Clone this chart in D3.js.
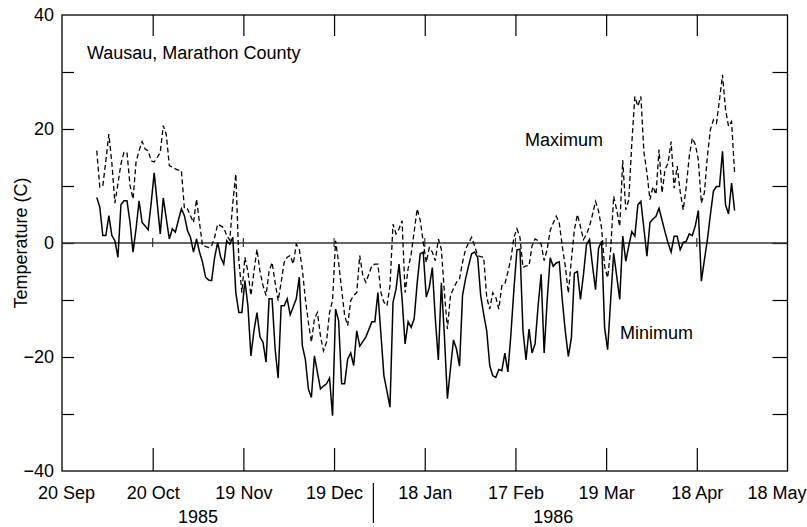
<!DOCTYPE html>
<html>
<head>
<meta charset="utf-8">
<script src="https://cdn.jsdelivr.net/npm/d3@7"></script>
<style>
  html, body { margin: 0; padding: 0; background: #fff; }
  svg { display: block; }
  text { font-family: "Liberation Sans", Arial, Helvetica, sans-serif; fill: #000; }
</style>
</head>
<body>
<svg id="chart" width="807" height="527"></svg>
<script>
// Daily temperatures, Wausau (Marathon County), 1 Oct 1985 – 30 Apr 1986, degrees C
const firstDay = [1985, 9, 1]; // 1 October 1985

const tMax = [
  16.2, 9.8, 10.0, 14.4, 19.1, 14.0, 7.0, 10.4, 13.9, 15.9,
  15.9, 10.1, 7.7, 14.2, 16.2, 17.8, 16.5, 16.2, 14.4, 14.2,
  15.0, 15.9, 20.6, 19.0, 13.6, 13.3, 13.0, 12.8, 12.7, 6.0,
  6.0, 4.8, 3.6, 7.7, 3.5, -0.5, -0.6, -0.8, -0.5, 1.0,
  3.3, 3.0, 2.7, 1.3, 0.5, 7.0, 12.1, -3.0, -8.7, -2.5,
  -5.0, -9.2, -5.0, -1.1, -5.0, -7.5, -9.2, -5.0, -3.4, -6.9,
  -10.1, -6.9, -3.4, -2.5, -2.2, -3.7, -0.2, -1.1, -4.6, -9.8,
  -13.9, -17.4, -13.3, -12.2, -16.3, -18.9, -17.4, -12.2, -10.1, 0.4,
  -3.4, -8.1, -12.7, -14.5, -10.1, -9.2, -8.7, -2.2, -5.7, -6.9,
  -5.5, -4.0, -3.7, -3.7, -8.7, -10.4, -11.0, -7.5, 3.3, 1.6,
  2.5, 3.9, -8.7, -4.5, -2.0, 2.0, 6.0, 4.0, 0.1, -3.4,
  -0.8, -1.6, -3.1, 0.7, -1.1, -8.7, -15.1, -9.2, -8.0, -6.9,
  -6.3, -3.4, -1.1, 0.0, 1.0, -0.5, -2.2, -2.4, -2.5, -9.5,
  -11.6, -8.7, -9.5, -11.6, -7.5, -7.2, -5.1, -2.8, 1.0, 2.5,
  1.0, -4.3, -4.0, -4.0, -0.5, 0.7, 0.4, -0.2, -3.1, -1.1,
  2.2, 3.5, 4.7, 3.5, -0.6, -4.1, -8.8, -3.0, 2.3, 5.0,
  2.9, 0.6, 1.5, 2.9, 5.0, 7.3, 5.6, 2.6, -4.1, -6.1,
  -1.2, 8.2, 5.8, 2.9, 14.5, 5.8, 7.6, 17.5, 25.7, 24.0,
  25.7, 16.0, 12.3, 7.6, 9.9, 8.5, 16.4, 8.8, 12.9, 14.0,
  17.8, 9.6, 13.5, 9.0, 5.8, 9.9, 15.2, 18.4, 17.3, 14.6,
  7.0, 8.8, 15.2, 19.9, 21.6, 21.0, 25.1, 29.5, 23.4, 20.5,
  21.3, 12.3
];

const tMin = [
  8.0, 6.3, 1.3, 1.3, 4.8, 1.3, 0.4, -2.5, 6.7, 7.4,
  7.4, 3.6, -1.6, 2.5, 7.4, 3.6, 3.0, 2.3, 7.0, 12.3,
  7.0, 1.6, 7.9, 4.3, 0.7, 2.5, 1.9, 4.0, 6.0, 4.8,
  2.2, 1.0, -1.6, 0.7, -1.6, -3.4, -6.0, -6.5, -6.6, -2.5,
  0.1, -2.5, -3.7, 0.4, -0.2, 1.0, -8.7, -12.2, -12.2, -6.6,
  -11.0, -19.8, -15.4, -12.2, -16.5, -17.4, -20.9, -9.8, -9.8, -18.6,
  -23.7, -11.0, -11.0, -9.8, -12.6, -11.2, -9.8, -6.0, -18.0, -20.4,
  -25.6, -27.1, -19.8, -22.7, -25.6, -25.1, -24.7, -23.7, -30.3, -11.6,
  -13.6, -24.7, -24.7, -20.4, -19.3, -21.5, -15.4, -18.1, -17.3, -16.5,
  -15.2, -13.8, -13.8, -8.7, -16.0, -23.3, -26.0, -28.8, -10.4, -8.1,
  -3.7, -9.8, -17.7, -13.8, -14.8, -13.3, -7.0, -1.9, -1.6, -9.5,
  -7.8, -4.3, -13.3, -20.5, -7.0, -16.3, -27.3, -22.1, -17.0, -18.6,
  -21.6, -9.2, -6.3, -4.0, -1.9, -1.6, -2.5, -9.2, -12.5, -15.4,
  -21.5, -23.3, -23.6, -22.2, -22.4, -19.3, -22.6, -16.0, -8.1, -1.2,
  -1.1, -15.4, -20.5, -15.1, -19.3, -17.7, -11.0, -5.5, -19.3, -10.0,
  -2.6, -4.1, -3.5, -3.3, -10.0, -15.5, -19.9, -16.7, -5.3, -5.0,
  -9.9, -5.6, -0.3, 0.6, -4.0, -8.2, -0.9, 0.3, -14.9, -18.7,
  -10.0, -1.8, -5.8, -9.9, 1.2, -3.2, -0.5, 2.0, 1.2, 6.7,
  7.3, 2.5, -2.3, 3.6, 4.2, 4.7, 6.1, 4.0, 1.9, 0.0,
  -1.6, 1.2, 1.2, -1.2, 0.1, 0.3, 1.6, 1.3, 3.0, 5.7,
  -6.7, -3.0, 0.6, 5.0, 9.1, 9.9, 9.9, 16.1, 6.7, 5.1,
  10.5, 5.7
];

// Axis ticks: every 30 days from 20 Sep 1985 to 18 May 1986
const xTickDates = [
  [1985, 8, 20], [1985, 9, 20], [1985, 10, 19], [1985, 11, 19], [1986, 0, 18],
  [1986, 1, 17], [1986, 2, 19], [1986, 3, 18], [1986, 4, 18]
];
const yTicks = [-40, -30, -20, -10, 0, 10, 20, 30, 40];
const yLabelled = [-40, -20, 0, 20, 40];
const years = [
  { label: "1985", from: [1985, 8, 20], to: [1985, 11, 19] },
  { label: "1986", from: [1986, 0, 1], to: [1986, 3, 30] }
];
const yearBreak = [1986, 0, 1];
const title = "Wausau, Marathon County";
const yTitle = "Temperature (C)";

const utc = (a, h = 0) => new Date(Date.UTC(a[0], a[1], a[2], h));

const svg = d3.select("#chart");
const W = 807, H = 527;
const m = { left: 62, right: W - 787.5, top: 15, bottom: H - 471 };
const pw = W - m.left - m.right, ph = H - m.top - m.bottom;

const x = d3.scaleUtc()
  .domain([utc(xTickDates[0]), utc(xTickDates[xTickDates.length - 1])])
  .range([m.left, m.left + pw]);
const y = d3.scaleLinear().domain([-40, 40]).range([m.top + ph, m.top]);

const days = tMax.map((_, i) => new Date(Date.UTC(firstDay[0], firstDay[1], firstDay[2] + i, 12)));
const tickDates = xTickDates.map(d => utc(d));
const inner = tickDates.slice(1, -1);
const fmtDate = d3.utcFormat("%-d %b");
const FONT = 18;

// Frame
svg.append("rect")
  .attr("x", m.left).attr("y", m.top).attr("width", pw).attr("height", ph)
  .attr("fill", "none").attr("stroke", "#000").attr("stroke-width", 1.3);

function styleAxis(g) {
  g.attr("font-family", null).attr("font-size", null);
  g.select(".domain").remove();
  g.selectAll(".tick line").attr("stroke", "#000").attr("stroke-width", 1.2);
  g.selectAll(".tick text").style("font-size", FONT + "px").attr("fill", "#000");
}

// Bottom axis with labels; the end labels are nudged to stay on the page
const last = tickDates.length - 1;
svg.append("g")
  .attr("transform", `translate(0,${m.top + ph})`)
  .call(d3.axisBottom(x).tickValues(tickDates).tickSize(-23).tickSizeOuter(0)
    .tickPadding(15.5).tickFormat(fmtDate))
  .call(styleAxis)
  .call(g => g.selectAll(".tick line").filter((d, i) => i === 0 || i === last).remove())
  .call(g => g.selectAll(".tick text").filter((d, i) => i === 0).attr("x", 4))
  .call(g => g.selectAll(".tick text").filter((d, i) => i === last)
    .attr("text-anchor", "end").attr("x", W - 1 - x(tickDates[last])));

// Top axis, ticks only
svg.append("g")
  .attr("transform", `translate(0,${m.top})`)
  .call(d3.axisTop(x).tickValues(inner).tickSize(-21).tickSizeOuter(0).tickFormat(""))
  .call(styleAxis);

// Left axis
svg.append("g")
  .attr("transform", `translate(${m.left},0)`)
  .call(d3.axisLeft(y).tickValues(yTicks).tickSize(-12).tickSizeOuter(0).tickPadding(8)
    .tickFormat(d => yLabelled.includes(d) ? d3.format("d")(d) : ""))
  .call(styleAxis)
  .call(g => g.selectAll(".tick line").filter(d => d === 40 || d === -40).remove());

// Right axis, ticks only
svg.append("g")
  .attr("transform", `translate(${m.left + pw},0)`)
  .call(d3.axisRight(y).tickValues(yTicks.filter(d => d !== 40 && d !== -40))
    .tickSize(-15).tickSizeOuter(0).tickFormat(""))
  .call(styleAxis);

// Zero line with small date marks
svg.append("line")
  .attr("x1", m.left).attr("x2", m.left + pw)
  .attr("y1", y(0)).attr("y2", y(0))
  .attr("stroke", "#333").attr("stroke-width", 1.6);
svg.append("g").selectAll("line").data(inner).join("line")
  .attr("x1", d => x(d)).attr("x2", d => x(d))
  .attr("y1", y(0) - 5).attr("y2", y(0) + 4)
  .attr("stroke", "#333").attr("stroke-width", 1.2);

// Year labels and separator
svg.append("g").selectAll("text").data(years).join("text")
  .attr("x", d => (x(utc(d.from)) + x(utc(d.to))) / 2)
  .attr("y", 523)
  .attr("text-anchor", "middle")
  .style("font-size", FONT + "px")
  .text(d => d.label);
svg.append("line")
  .attr("x1", x(utc(yearBreak))).attr("x2", x(utc(yearBreak)))
  .attr("y1", 483).attr("y2", 523)
  .attr("stroke", "#000").attr("stroke-width", 1.2);

// Axis title
svg.append("text")
  .attr("transform", `translate(27,${m.top + ph / 2}) rotate(-90)`)
  .attr("text-anchor", "middle")
  .style("font-size", FONT + "px")
  .text(yTitle);

// Panel title
svg.append("text")
  .attr("x", 87).attr("y", 59)
  .style("font-size", FONT + "px")
  .text(title);

// Series
const line = vals => d3.line().x((d, i) => x(days[i])).y(d => y(d))(vals);

svg.append("path")
  .attr("d", line(tMax))
  .attr("fill", "none").attr("stroke", "#000").attr("stroke-width", 1.3)
  .attr("stroke-dasharray", "5,3");

svg.append("path")
  .attr("d", line(tMin))
  .attr("fill", "none").attr("stroke", "#000").attr("stroke-width", 1.5)
  .attr("stroke-linejoin", "miter");

// Series labels
svg.append("text").attr("x", 525).attr("y", 146).style("font-size", FONT + "px").text("Maximum");
svg.append("text").attr("x", 620).attr("y", 339).style("font-size", FONT + "px").text("Minimum");
</script>
</body>
</html>
